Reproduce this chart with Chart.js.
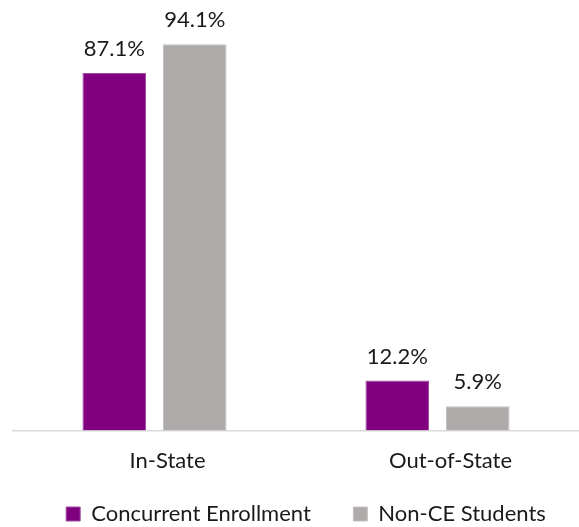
<!DOCTYPE html>
<html>
<head>
<meta charset="utf-8">
<script src="https://cdn.jsdelivr.net/npm/chart.js@4"></script>
<style>
    body { margin: 0; background: #fff; }
    #wrap { width: 579px; height: 527px; position: relative; }
</style>
</head>
<body>
<div id="wrap"><canvas id="myChart"></canvas></div>
<script>
const categories = ['In-State', 'Out-of-State'];
const ceValues = [87.1, 12.2];
const nonCeValues = [94.1, 5.9];
const seriesNames = ['Concurrent Enrollment', 'Non-CE Students'];

// 棒の上に値ラベルを描く
const valueLabels = {
    id: 'valueLabels',
    afterDatasetsDraw(chart) {
        const ctx = chart.ctx;
        ctx.save();
        ctx.font = '22px Lato';
        ctx.fillStyle = '#1a1a1a';
        ctx.textAlign = 'center';
        ctx.textBaseline = 'bottom';
        chart.data.datasets.forEach((ds, i) => {
            chart.getDatasetMeta(i).data.forEach((bar, j) => {
                ctx.fillText(ds.data[j].toFixed(1) + '%', bar.x, bar.y - 13);
            });
        });
        ctx.restore();
    }
};

// 凡例を少し右へ寄せる
const legendShift = {
    id: 'legendShift',
    afterLayout(chart) {
        chart.legend.left += 10;
        chart.legend.right += 10;
    }
};

document.addEventListener("DOMContentLoaded", function() {
    const ctx = document.getElementById('myChart').getContext('2d');

    const data = {
        labels: categories,
        datasets: [
            {
                label: seriesNames[0],
                backgroundColor: '#800080',
                borderColor: '#a04da0',
                borderWidth: 1,
                data: ceValues,
            },
            {
                label: seriesNames[1],
                backgroundColor: '#AEAAAA',
                borderColor: '#c4c1c1',
                borderWidth: 1,
                data: nonCeValues,
            }
        ]
    };

    const config = {
        type: 'bar',
        data: data,
        options: {
            responsive: true,
            maintainAspectRatio: false,
            animation: false,
            layout: {
                padding: { left: 13, top: 20, right: 0, bottom: -8 }
            },
            datasets: {
                bar: {
                    categoryPercentage: 0.569,
                    barPercentage: 0.79
                }
            },
            scales: {
                x: {
                    grid: { display: false },
                    border: { display: true, color: '#d9d9d9', width: 1.5 },
                    ticks: {
                        color: '#1a1a1a',
                        padding: 9,
                        labelOffset: 13,
                        font: { size: 22, family: 'Lato' }
                    }
                },
                y: {
                    display: false,
                    min: 0,
                    max: 100
                }
            },
            plugins: {
                legend: {
                    position: 'bottom',
                    labels: {
                        boxWidth: 14,
                        boxHeight: 14,
                        padding: 20,
                        color: '#1a1a1a',
                        font: { size: 22, family: 'Lato' },
                        generateLabels(chart) {
                            const items = Chart.defaults.plugins.legend.labels.generateLabels(chart);
                            items[0].text += '    ';  // 項目間のすき間
                            return items;
                        }
                    }
                },
                tooltip: { enabled: false }
            }
        },
        plugins: [valueLabels, legendShift]
    };

    new Chart(ctx, config);
});
</script>
</body>
</html>
